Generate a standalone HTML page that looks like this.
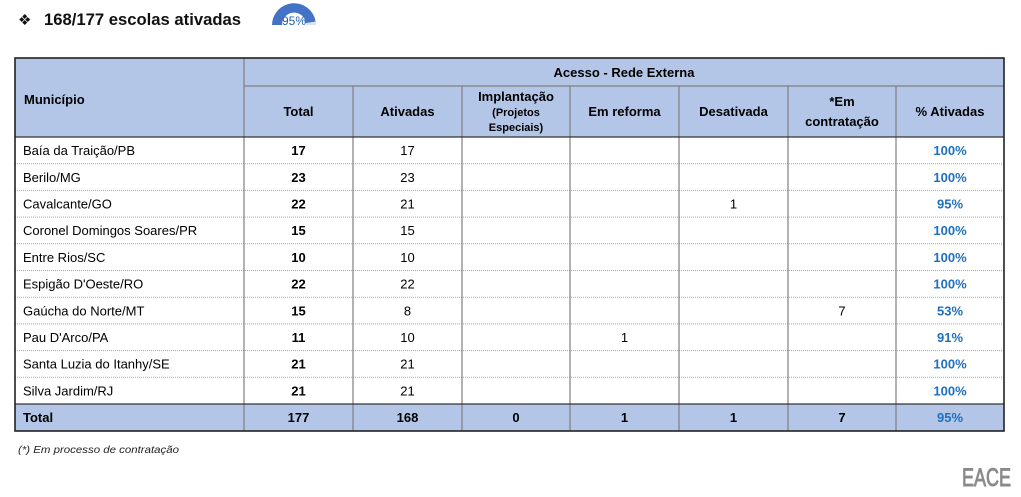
<!DOCTYPE html>
<html><head><meta charset="utf-8"><style>
html,body{margin:0;padding:0;background:#fff;}
svg{display:block;}
text{font-family:"Liberation Sans",sans-serif;}
</style></head><body>
<svg width="1021" height="497" viewBox="0 0 1021 497" xmlns="http://www.w3.org/2000/svg">
<!-- Title -->
<text x="18" y="25" font-family="DejaVu Sans" font-size="15" fill="#111">❖</text>
<text x="44" y="25" font-size="17" font-weight="bold" fill="#111" textLength="197" lengthAdjust="spacingAndGlyphs">168/177 escolas ativadas</text>
<!-- Gauge -->
<path d="M272 25 A22 22 0 0 1 315.7 21.6 L305.9 23.1 A12 12 0 0 0 282 25 Z" fill="#4472C4"/>
<path d="M315.7 21.6 A22 22 0 0 1 316 25 L306 25 A12 12 0 0 0 305.9 23.1 Z" fill="#DCE3F0"/>
<text x="294" y="25" font-size="11.5" fill="#1F5FAF" text-anchor="middle" textLength="24" lengthAdjust="spacingAndGlyphs">95%</text>

<!-- Header bg -->
<rect x="15" y="58" width="989" height="79" fill="#B4C6E7"/>
<!-- Total row bg -->
<rect x="15" y="404" width="989" height="27" fill="#B4C6E7"/>

<!-- dotted row separators -->
<g stroke="#A6A6A6" stroke-width="1" stroke-dasharray="1,1">
<line x1="15" y1="163.7" x2="1004" y2="163.7"/>
<line x1="15" y1="190.4" x2="1004" y2="190.4"/>
<line x1="15" y1="217.1" x2="1004" y2="217.1"/>
<line x1="15" y1="243.8" x2="1004" y2="243.8"/>
<line x1="15" y1="270.5" x2="1004" y2="270.5"/>
<line x1="15" y1="297.2" x2="1004" y2="297.2"/>
<line x1="15" y1="323.9" x2="1004" y2="323.9"/>
<line x1="15" y1="350.6" x2="1004" y2="350.6"/>
<line x1="15" y1="377.3" x2="1004" y2="377.3"/>
</g>
<!-- vertical inner lines -->
<g stroke="#7F7F7F" stroke-width="1.2">
<line x1="244" y1="58" x2="244" y2="431"/>
<line x1="353" y1="86" x2="353" y2="431"/>
<line x1="462" y1="86" x2="462" y2="431"/>
<line x1="570" y1="86" x2="570" y2="431"/>
<line x1="679" y1="86" x2="679" y2="431"/>
<line x1="788" y1="86" x2="788" y2="431"/>
<line x1="896" y1="86" x2="896" y2="431"/>
<line x1="244" y1="86" x2="1004" y2="86"/>
</g>
<g stroke="#333" stroke-width="1.2">
<line x1="15" y1="137" x2="1004" y2="137"/>
<line x1="15" y1="404" x2="1004" y2="404"/>
</g>
<rect x="15" y="58" width="989" height="373" fill="none" stroke="#222" stroke-width="1.6"/>

<!-- Header text -->
<g font-size="13" font-weight="bold" fill="#000" text-anchor="middle">
<text x="624" y="77">Acesso - Rede Externa</text>
<text x="24" y="104" text-anchor="start">Município</text>
<text x="298.5" y="116">Total</text>
<text x="407.5" y="116">Ativadas</text>
<text x="516" y="101">Implantação</text>
<text x="516" y="116" font-size="11">(Projetos</text>
<text x="516" y="131" font-size="11">Especiais)</text>
<text x="624.5" y="116">Em reforma</text>
<text x="733.5" y="116">Desativada</text>
<text x="842" y="106">*Em</text>
<text x="842" y="126">contratação</text>
<text x="950" y="116">% Ativadas</text>
</g>

<!-- Data rows -->
<g font-size="13" fill="#000">
<g>
<text x="23" y="155">Baía da Traição/PB</text>
<text x="23" y="182">Berilo/MG</text>
<text x="23" y="208.5">Cavalcante/GO</text>
<text x="23" y="235">Coronel Domingos Soares/PR</text>
<text x="23" y="262">Entre Rios/SC</text>
<text x="23" y="288.5">Espigão D'Oeste/RO</text>
<text x="23" y="315.5">Gaúcha do Norte/MT</text>
<text x="23" y="342">Pau D'Arco/PA</text>
<text x="23" y="368.5">Santa Luzia do Itanhy/SE</text>
<text x="23" y="395.5">Silva Jardim/RJ</text>
</g>
<g text-anchor="middle" font-weight="bold">
<text x="298.5" y="155">17</text>
<text x="298.5" y="182">23</text>
<text x="298.5" y="208.5">22</text>
<text x="298.5" y="235">15</text>
<text x="298.5" y="262">10</text>
<text x="298.5" y="288.5">22</text>
<text x="298.5" y="315.5">15</text>
<text x="298.5" y="342">11</text>
<text x="298.5" y="368.5">21</text>
<text x="298.5" y="395.5">21</text>
</g>
<g text-anchor="middle">
<text x="407.5" y="155">17</text>
<text x="407.5" y="182">23</text>
<text x="407.5" y="208.5">21</text>
<text x="407.5" y="235">15</text>
<text x="407.5" y="262">10</text>
<text x="407.5" y="288.5">22</text>
<text x="407.5" y="315.5">8</text>
<text x="407.5" y="342">10</text>
<text x="407.5" y="368.5">21</text>
<text x="407.5" y="395.5">21</text>
<text x="733.5" y="208.5">1</text>
<text x="842" y="315.5">7</text>
<text x="624.5" y="342">1</text>
</g>
<g text-anchor="middle" font-weight="bold" fill="#1F6FBF">
<text x="950" y="155">100%</text>
<text x="950" y="182">100%</text>
<text x="950" y="208.5">95%</text>
<text x="950" y="235">100%</text>
<text x="950" y="262">100%</text>
<text x="950" y="288.5">100%</text>
<text x="950" y="315.5">53%</text>
<text x="950" y="342">91%</text>
<text x="950" y="368.5">100%</text>
<text x="950" y="395.5">100%</text>
</g>
</g>
<!-- Total row -->
<g font-size="13" font-weight="bold" fill="#000">
<text x="23" y="422">Total</text>
<g text-anchor="middle">
<text x="298.5" y="422">177</text>
<text x="407.5" y="422">168</text>
<text x="516" y="422">0</text>
<text x="624.5" y="422">1</text>
<text x="733.5" y="422">1</text>
<text x="842" y="422">7</text>
<text x="950" y="422" fill="#1F6FBF">95%</text>
</g>
</g>

<!-- Footnote -->
<text x="18" y="453" font-size="10.5" font-style="italic" fill="#222" textLength="161" lengthAdjust="spacingAndGlyphs">(*) Em processo de contratação</text>

<!-- Logo -->
<text x="962" y="486" font-size="25" fill="#8A8A8A" stroke="#8A8A8A" stroke-width="0.9" textLength="49" lengthAdjust="spacingAndGlyphs">EACE</text>
</svg>
</body></html>
